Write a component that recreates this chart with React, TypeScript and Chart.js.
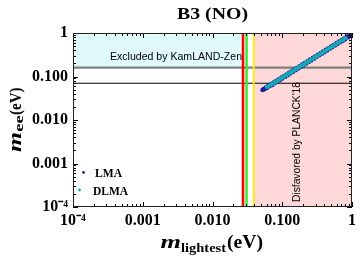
import React, { useEffect, useRef } from "react";
import { Chart, registerables } from "chart.js";

Chart.register(...registerables);

// ---------- data ----------
const lmaX = [
  0.052, 0.054, 0.056, 0.058, 0.061, 0.063, 0.066, 0.069, 0.072, 0.075,
  0.078, 0.082, 0.085, 0.089, 0.093, 0.097, 0.1, 0.105, 0.11, 0.115,
  0.12, 0.125, 0.13, 0.136, 0.142, 0.148, 0.155, 0.162, 0.17, 0.177,
  0.185, 0.193, 0.2, 0.21, 0.22, 0.23, 0.24, 0.25, 0.26, 0.275,
  0.285, 0.3, 0.31, 0.325, 0.34, 0.355, 0.37, 0.385, 0.4, 0.42,
  0.44, 0.46, 0.48, 0.5, 0.52, 0.545, 0.57, 0.6, 0.62, 0.65,
  0.68, 0.71, 0.74, 0.77, 0.8, 0.84, 0.88, 0.92, 0.96, 0.99,
];
const lmaY = [
  0.049, 0.052, 0.051, 0.056, 0.055, 0.062, 0.06, 0.067, 0.064, 0.073,
  0.07, 0.08, 0.076, 0.087, 0.083, 0.095, 0.09, 0.102, 0.098, 0.112,
  0.107, 0.122, 0.117, 0.133, 0.127, 0.145, 0.139, 0.158, 0.152, 0.173,
  0.166, 0.189, 0.18, 0.205, 0.198, 0.225, 0.216, 0.245, 0.234, 0.269,
  0.256, 0.294, 0.279, 0.318, 0.306, 0.347, 0.333, 0.377, 0.36, 0.411,
  0.396, 0.45, 0.432, 0.489, 0.468, 0.533, 0.513, 0.587, 0.558, 0.636,
  0.612, 0.695, 0.666, 0.753, 0.72, 0.822, 0.792, 0.9, 0.865, 0.97,
];
const dlmaX = [
  0.06, 0.063, 0.066, 0.069, 0.072, 0.075, 0.078, 0.082, 0.085, 0.089,
  0.093, 0.097, 0.1, 0.105, 0.11, 0.115, 0.12, 0.125, 0.13, 0.136,
  0.142, 0.148, 0.155, 0.162, 0.17, 0.177, 0.185, 0.193, 0.2, 0.21,
  0.22, 0.23, 0.24, 0.25, 0.26, 0.275, 0.285, 0.3, 0.31, 0.325,
  0.34, 0.355, 0.37, 0.385, 0.4, 0.42, 0.44, 0.46, 0.48, 0.5,
  0.52, 0.545, 0.57, 0.6, 0.63, 0.66, 0.7, 0.74, 0.78, 0.82,
];
const dlmaY = [
  0.057, 0.058, 0.063, 0.064, 0.069, 0.069, 0.074, 0.076, 0.081, 0.082,
  0.089, 0.09, 0.096, 0.097, 0.105, 0.106, 0.115, 0.116, 0.124, 0.126,
  0.136, 0.137, 0.148, 0.15, 0.162, 0.164, 0.177, 0.179, 0.191, 0.194,
  0.21, 0.213, 0.229, 0.231, 0.248, 0.254, 0.272, 0.278, 0.296, 0.301,
  0.325, 0.328, 0.353, 0.356, 0.382, 0.389, 0.42, 0.426, 0.458, 0.463,
  0.497, 0.504, 0.544, 0.555, 0.602, 0.611, 0.668, 0.685, 0.745, 0.759,
];

const tickValues = [0.0001, 0.001, 0.01, 0.1, 1];
const xTickLabels = ["10⁻⁴", "0.001", "0.010", "0.100", "1"];
const yTickLabels = ["10⁻⁴", "0.001", "0.010", "0.100", "1"];

const kamlandUpper = 0.16;
const kamlandLower = 0.07;
const redBound = 0.0274;
const greenBound = 0.0308;
const yellowBound = 0.039;

const titleText = "B3 (NO)";
const seriesNames = ["LMA", "DLMA"];

// ---------- styles ----------
const LMA_COLOR = "#1b1f9e";
const DLMA_COLOR = "#17a9b3";
const CYAN_FILL = "#e0fafa";
const PINK_FILL = "#ffd9d9";
const SERIF = "'Liberation Serif', 'Times New Roman', serif";
const SANS = "'Liberation Sans', Arial, sans-serif";

function fitText(ctx: CanvasRenderingContext2D, text: string, x: number, y: number, font: string, w: number) {
  ctx.font = font;
  const m = ctx.measureText(text).width || 1;
  ctx.save();
  ctx.translate(x, y);
  ctx.scale(w / m, 1);
  ctx.textAlign = "left";
  ctx.textBaseline = "alphabetic";
  ctx.fillText(text, 0, 0);
  ctx.restore();
}

const overlayPlugin = {
  id: "overlay",
  beforeDatasetsDraw(chart: any) {
    const { ctx, chartArea: a, scales } = chart;
    const x = scales.x;
    const y = scales.y;
    ctx.save();
    ctx.beginPath();
    ctx.rect(a.left, a.top, a.right - a.left, a.bottom - a.top);
    ctx.clip();

    const xr = x.getPixelForValue(redBound);
    const xg = x.getPixelForValue(greenBound);
    const xy = x.getPixelForValue(yellowBound);
    const yu = y.getPixelForValue(kamlandUpper);
    const yl = y.getPixelForValue(kamlandLower);

    ctx.fillStyle = CYAN_FILL;
    ctx.fillRect(a.left, a.top, xr - a.left, yu - a.top);
    ctx.fillStyle = PINK_FILL;
    ctx.fillRect(xy, a.top, a.right - xy, a.bottom - a.top);

    // horizontal lines
    ctx.strokeStyle = "#7f7f7f";
    ctx.lineWidth = 2.2;
    ctx.beginPath();
    ctx.moveTo(a.left, yu);
    ctx.lineTo(a.right, yu);
    ctx.stroke();
    ctx.strokeStyle = "#000";
    ctx.lineWidth = 1;
    ctx.beginPath();
    ctx.moveTo(a.left, yl);
    ctx.lineTo(a.right, yl);
    ctx.stroke();

    // vertical lines
    const vline = (px: number, col: string, w: number) => {
      ctx.strokeStyle = col;
      ctx.lineWidth = w;
      ctx.beginPath();
      ctx.moveTo(px, a.top);
      ctx.lineTo(px, a.bottom);
      ctx.stroke();
    };
    vline(xr, "#ff0000", 2.6);
    vline(xg, "#33e633", 2.4);
    vline(xy, "#ffee00", 1.8);

    // annotation texts
    ctx.fillStyle = "#000";
    fitText(ctx, "Excluded by KamLAND-Zen", 110, 59.5, `11px ${SANS}`, 132);
    ctx.save();
    ctx.translate(299.5, 202);
    ctx.rotate(-Math.PI / 2);
    fitText(ctx, "Disfavored by PLANCK'18", 0, 0, `11px ${SANS}`, 120);
    ctx.restore();

    ctx.restore();
  },
  afterDatasetsDraw(chart: any) {
    const { ctx, chartArea: a, scales } = chart;
    const x = scales.x;
    const y = scales.y;
    ctx.save();
    // ticks on all four sides
    ctx.strokeStyle = "#000";
    ctx.lineWidth = 1;
    ctx.beginPath();
    for (let d = -4; d <= 0; d++) {
      for (let k = 1; k <= 9; k++) {
        const v = k * Math.pow(10, d);
        if (v > 1.0001) break;
        const len = k === 1 ? 5 : 3;
        const px = Math.round(x.getPixelForValue(v)) + 0.5;
        ctx.moveTo(px, a.bottom);
        ctx.lineTo(px, a.bottom - len);
        ctx.moveTo(px, a.top);
        ctx.lineTo(px, a.top + len);
        const py = Math.round(y.getPixelForValue(v)) + 0.5;
        ctx.moveTo(a.left, py);
        ctx.lineTo(a.left + len, py);
        ctx.moveTo(a.right, py);
        ctx.lineTo(a.right - len, py);
      }
    }
    ctx.stroke();
    // frame
    ctx.strokeStyle = "#222";
    ctx.lineWidth = 1;
    ctx.strokeRect(Math.round(a.left) + 0.5, Math.round(a.top) + 0.5, Math.round(a.right - a.left) - 1, Math.round(a.bottom - a.top) - 1);

    // legend
    ctx.fillStyle = LMA_COLOR;
    ctx.beginPath();
    ctx.arc(83.5, 172.5, 1.4, 0, Math.PI * 2);
    ctx.fill();
    ctx.fillStyle = DLMA_COLOR;
    ctx.beginPath();
    ctx.arc(79.5, 190, 1.4, 0, Math.PI * 2);
    ctx.fill();
    ctx.fillStyle = "#000";
    fitText(ctx, seriesNames[0], 95, 177, `bold 12px ${SERIF}`, 27);
    fitText(ctx, seriesNames[1], 93, 194.5, `bold 12px ${SERIF}`, 35);

    ctx.restore();
  },
  afterDraw(chart: any) {
    const { ctx } = chart;
    ctx.save();
    ctx.fillStyle = "#000";
    // title
    fitText(ctx, titleText, 177, 18.5, `bold 17px ${SERIF}`, 71);
    // x axis title
    fitText(ctx, "m", 160.5, 248.3, `italic bold 19px ${SERIF}`, 20.5);
    fitText(ctx, "lightest", 181, 251.7, `bold 12px ${SERIF}`, 45);
    fitText(ctx, "(eV)", 227, 248.3, `bold 18px ${SERIF}`, 36);
    // y axis title (rotated)
    ctx.translate(20.5, 152);
    ctx.rotate(-Math.PI / 2);
    fitText(ctx, "m", 0, 0, `italic bold 18px ${SERIF}`, 20);
    fitText(ctx, "ee", 20.3, 2.5, `bold 12px ${SERIF}`, 16.5);
    fitText(ctx, "(eV)", 37, 0, `bold 17px ${SERIF}`, 27.5);
    ctx.restore();
  },
};

export default function App() {
  const canvasRef = useRef<HTMLCanvasElement | null>(null);

  useEffect(() => {
    document.body.style.margin = "0";
    const canvas = canvasRef.current;
    if (!canvas) return;
    const tickFont = { family: SERIF, size: 16, weight: "bold" as const };
    const chart = new Chart(canvas, {
      type: "scatter",
      data: {
        datasets: [
          {
            label: seriesNames[1],
            data: dlmaX.map((v, i) => ({ x: v, y: dlmaY[i] })),
            backgroundColor: DLMA_COLOR,
            borderWidth: 0,
            pointRadius: 2,
            order: 0,
          },
          {
            label: seriesNames[0],
            data: lmaX.map((v, i) => ({ x: v, y: lmaY[i] })),
            backgroundColor: LMA_COLOR,
            borderWidth: 0,
            pointRadius: 2.2,
            order: 1,
          },
        ],
      },
      options: {
        animation: false,
        responsive: true,
        maintainAspectRatio: false,
        events: [],
        layout: { padding: { top: 33, right: 6, left: 0, bottom: 0 } },
        plugins: {
          legend: { display: false },
          tooltip: { enabled: false },
          title: { display: false },
        },
        scales: {
          x: {
            type: "logarithmic",
            position: "bottom",
            min: 0.0001,
            max: 1,
            grid: { display: false, drawTicks: false },
            border: { display: false },
            afterBuildTicks: (s: any) => {
              s.ticks = tickValues.map((v) => ({ value: v }));
            },
            afterFit: (s: any) => {
              s.height = 56;
            },
            ticks: {
              autoSkip: false,
              maxRotation: 0,
              minRotation: 0,
              padding: 4,
              color: "#000",
              font: tickFont,
              callback: (_v: any, i: number) => xTickLabels[i],
            },
          },
          y: {
            type: "logarithmic",
            position: "left",
            min: 0.0001,
            max: 1,
            grid: { display: false, drawTicks: false },
            border: { display: false },
            afterBuildTicks: (s: any) => {
              s.ticks = tickValues.map((v) => ({ value: v }));
            },
            afterFit: (s: any) => {
              s.width = 73;
            },
            ticks: {
              autoSkip: false,
              padding: 5,
              color: "#000",
              font: tickFont,
              callback: (_v: any, i: number) => yTickLabels[i],
            },
          },
        },
      },
      plugins: [overlayPlugin],
    });
    return () => chart.destroy();
  }, []);

  return (
    <div style={{ width: 360, height: 263, position: "relative", background: "#fff" }}>
      <canvas ref={canvasRef} />
    </div>
  );
}
